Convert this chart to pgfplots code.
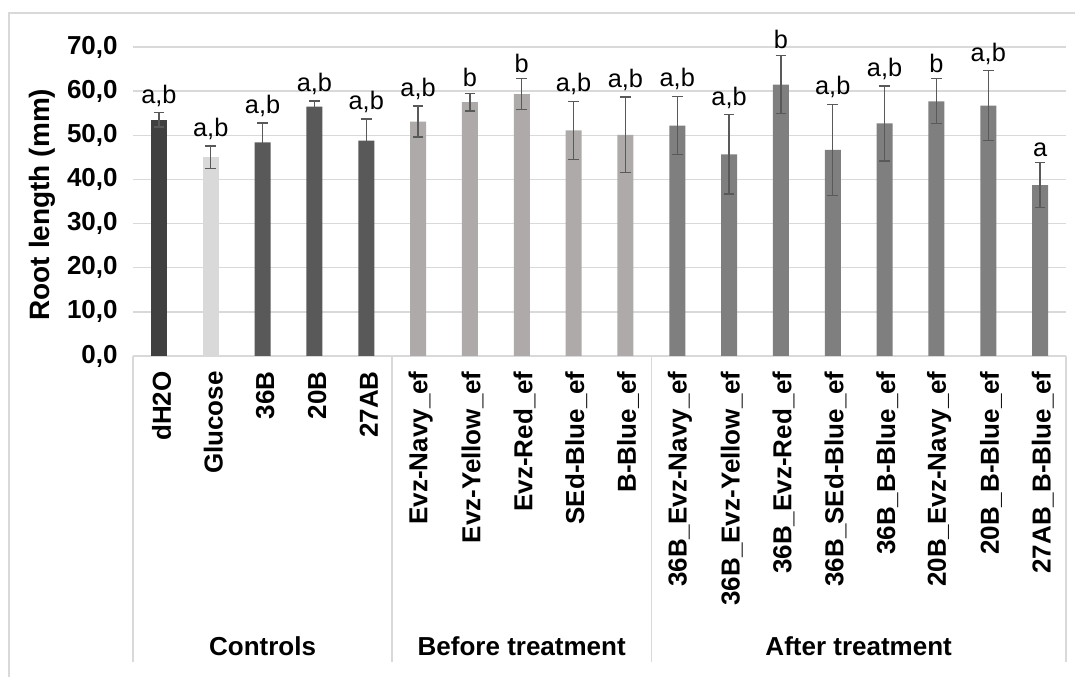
\documentclass[border=0pt]{standalone}
\usepackage{pgfplots}
\pgfplotsset{compat=1.18}
\usepackage{fontspec}
\setmainfont{Liberation Sans}
\definecolor{cA}{HTML}{404040}
\definecolor{cB}{HTML}{D9D9D9}
\definecolor{cC}{HTML}{595959}
\definecolor{cD}{HTML}{AEAAAA}
\definecolor{cE}{HTML}{7F7F7F}
\definecolor{gridc}{HTML}{D9D9D9}
\definecolor{errc}{HTML}{595959}
\begin{document}
\begin{tikzpicture}
\path[use as bounding box] (0,0) rectangle (806.25pt,507.75pt);
\draw[gridc, line width=1.2pt] (6.75pt,0) -- (6.75pt,498pt) -- (806.25pt,498pt);
\begin{axis}[
  at={(99.75pt,240.75pt)}, anchor=south west,
  scale only axis, width=699.75pt, height=231.75pt,
  xmin=-0.5, xmax=17.5, ymin=0, ymax=70,
  ytick={0,10,...,70},
  ymajorgrids, grid style={gridc, line width=1.1pt},
  axis line style={draw=none},
  major tick length=0pt,
  xtick={0,...,17},
  xticklabels={dH2O,Glucose,36B,20B,27AB,Evz-Navy\_ef,Evz-Yellow\_ef,Evz-Red\_ef,SEd-Blue\_ef,B-Blue\_ef,36B\_Evz-Navy\_ef,36B\_Evz-Yellow\_ef,36B\_Evz-Red\_ef,36B\_SEd-Blue\_ef,36B\_B-Blue\_ef,20B\_Evz-Navy\_ef,20B\_B-Blue\_ef,27AB\_B-Blue\_ef},
  xticklabel style={rotate=90, anchor=east, font=\fontsize{19.5pt}{22pt}\selectfont\bfseries, xshift=-8pt, yshift=-2pt},
  yticklabel style={font=\fontsize{19.5pt}{22pt}\selectfont\bfseries, xshift=-8pt},
  /pgf/number format/.cd, fixed, fixed zerofill, precision=1, use comma, assume math mode=true,
  /pgfplots/.cd,
  ylabel={Root length (mm)},
  every axis y label/.style={at={(rel axis cs:0,0.49)}, xshift=-68.25pt, rotate=90, font=\fontsize{21pt}{24pt}\selectfont\bfseries},
  clip=false,
  error bars/error bar style={errc, line width=1pt},
  error bars/error mark options={rotate=90, mark size=4pt, errc, line width=1pt},
]
\addplot[ybar, bar shift=0pt, bar width=12pt, fill=cA, draw=none,
  error bars/.cd, y dir=both, y explicit]
  coordinates {(0,53.5) +- (0,1.6)};
\addplot[ybar, bar shift=0pt, bar width=12pt, fill=cB, draw=none,
  error bars/.cd, y dir=both, y explicit]
  coordinates {(1,45.0) +- (0,2.6)};
\addplot[ybar, bar shift=0pt, bar width=12pt, fill=cC, draw=none,
  error bars/.cd, y dir=both, y explicit]
  coordinates {(2,48.4) +- (0,4.4) (3,56.5) +- (0,1.3) (4,48.8) +- (0,4.9)};
\addplot[ybar, bar shift=0pt, bar width=12pt, fill=cD, draw=none,
  error bars/.cd, y dir=both, y explicit]
  coordinates {(5,53.1) +- (0,3.5) (6,57.5) +- (0,2.0) (7,59.3) +- (0,3.5) (8,51.1) +- (0,6.6) (9,50.1) +- (0,8.6)};
\addplot[ybar, bar shift=0pt, bar width=12pt, fill=cE, draw=none,
  error bars/.cd, y dir=both, y explicit]
  coordinates {(10,52.2) +- (0,6.6) (11,45.7) +- (0,9.0) (12,61.5) +- (0,6.6) (13,46.7) +- (0,10.3) (14,52.7) +- (0,8.5) (15,57.7) +- (0,5.1) (16,56.7) +- (0,7.9) (17,38.7) +- (0,5.1)};
% significance letters placed at mean + error
\addplot[draw=none, mark=none, nodes near coords, point meta=explicit symbolic,
  every node near coord/.append style={font=\fontsize{19pt}{21pt}\selectfont, anchor=south, inner sep=4.5pt, black}]
  coordinates {(0,55.1) [a,b] (1,47.6) [a,b] (2,52.8) [a,b] (3,57.8) [a,b] (4,53.7) [a,b]
  (5,56.6) [a,b] (6,59.5) [b] (7,62.8) [b] (8,57.7) [a,b] (9,58.7) [a,b]
  (10,58.8) [a,b] (11,54.7) [a,b] (12,68.1) [b] (13,57.0) [a,b] (14,61.2) [a,b] (15,62.8) [b] (16,64.6) [a,b] (17,43.8) [a]};
\foreach \s in {-0.5,4.5,9.5,17.5} {
  \edef\tmp{\noexpand\draw[gridc, line width=1.1pt] (axis cs:\s,0) -- ([yshift=-229.5pt]axis cs:\s,0);}\tmp
}
\node[font=\fontsize{19.5pt}{22pt}\selectfont\bfseries] at ([yshift=-218pt]axis cs:2,0) {Controls};
\node[font=\fontsize{19.5pt}{22pt}\selectfont\bfseries] at ([yshift=-218pt]axis cs:7,0) {Before treatment};
\node[font=\fontsize{19.5pt}{22pt}\selectfont\bfseries] at ([yshift=-218pt]axis cs:13.5,0) {After treatment};
\end{axis}
\end{tikzpicture}
\end{document}
